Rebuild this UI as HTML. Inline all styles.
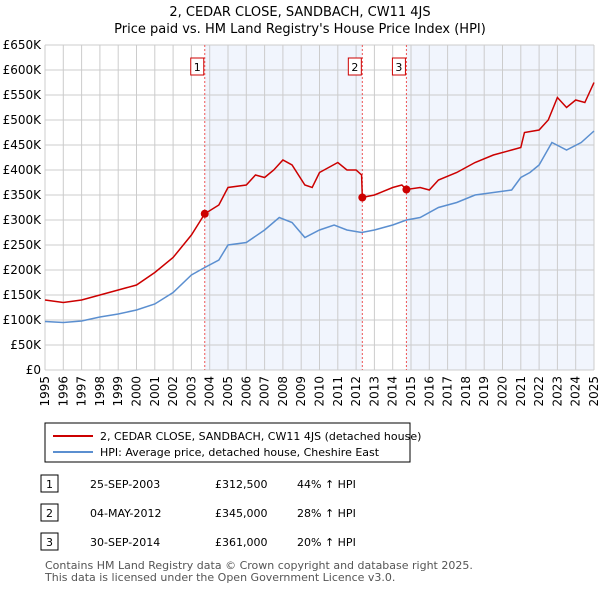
<!DOCTYPE html>
<html><head><meta charset="utf-8"><style>
body{margin:0;background:#fff;font-family:"DejaVu Sans",sans-serif;}
svg text{font-family:"DejaVu Sans",sans-serif;}
</style></head><body>
<svg width="600" height="590" xmlns="http://www.w3.org/2000/svg">
<text x="300" y="16" text-anchor="middle" font-size="13">2, CEDAR CLOSE, SANDBACH, CW11 4JS</text>
<text x="300" y="33" text-anchor="middle" font-size="13">Price paid vs. HM Land Registry's House Price Index (HPI)</text>
<g id="plot"></g>
<g id="legend">
<rect x="45" y="423" width="365" height="39" fill="#fff" stroke="#000" stroke-width="1"/>
<line x1="53" y1="436" x2="93" y2="436" stroke="#cc0000" stroke-width="2"/>
<text x="100" y="440" font-size="11">2, CEDAR CLOSE, SANDBACH, CW11 4JS (detached house)</text>
<line x1="53" y1="452" x2="93" y2="452" stroke="#5b8fd0" stroke-width="2"/>
<text x="100" y="456" font-size="11">HPI: Average price, detached house, Cheshire East</text>
</g>
<g id="table" font-size="11"></g>
<text x="45" y="569" font-size="11" fill="#555">Contains HM Land Registry data © Crown copyright and database right 2025.</text>
<text x="45" y="581" font-size="11" fill="#555">This data is licensed under the Open Government Licence v3.0.</text>
</svg>
<script>
const years=[1995,1996,1997,1998,1999,2000,2001,2002,2003,2004,2005,2006,2007,2008,2009,2010,2011,2012,2013,2014,2015,2016,2017,2018,2019,2020,2021,2022,2023,2024,2025];
const yTicks=[0,50,100,150,200,250,300,350,400,450,500,550,600,650];
const hpiT=[1995,1996,1997,1998,1999,2000,2001,2002,2003,2003.73,2004.5,2005,2006,2007,2007.8,2008.5,2009.2,2010,2010.8,2011.5,2012.3,2013,2014,2014.75,2015.5,2016.5,2017.5,2018.5,2019.5,2020.5,2021,2021.5,2022,2022.7,2023.5,2024.3,2025];
const hpiV=[97,95,98,106,112,120,132,155,190,205,220,250,255,280,305,295,265,280,290,280,275,280,290,300,305,325,335,350,355,360,385,395,410,455,440,455,478];
const priceT=[1995,1996,1997,1998,1999,2000,2001,2002,2003,2003.73,2004.5,2005,2006,2006.5,2007,2007.5,2008,2008.5,2009.2,2009.6,2010,2011,2011.5,2012,2012.3,2012.34,2013,2014,2014.5,2014.75,2015.5,2016,2016.5,2017.5,2018.5,2019.5,2020.5,2021,2021.2,2022,2022.5,2023,2023.5,2024,2024.5,2025];
const priceV=[140,135,140,150,160,170,195,225,270,312.5,330,365,370,390,385,400,420,410,370,365,395,415,400,400,390,345,350,365,370,361,365,360,380,395,415,430,440,445,475,480,500,545,525,540,535,575];
const saleT=[2003.73,2012.34,2014.75];
const saleV=[312.5,345,361];
const saleLabels=["1","2","3"];
const saleDates=["25-SEP-2003","04-MAY-2012","30-SEP-2014"];
const salePrices=["£312,500","£345,000","£361,000"];
const saleHpi=["44% ↑ HPI","28% ↑ HPI","20% ↑ HPI"];
const NS="http://www.w3.org/2000/svg";
const X0=45,X1=594,Y0=370,Y1=45;
const xs=t=>X0+(t-1995)/30*(X1-X0);
const ys=v=>Y0-v/650*(Y0-Y1);
function mk(tag,attrs,parent){const e=document.createElementNS(NS,tag);for(const k in attrs)e.setAttribute(k,attrs[k]);parent.appendChild(e);return e;}
const plot=document.getElementById('plot');
const shadeStarts=[saleT[0],saleT[2]],shadeEnds=[saleT[1],2025];
for(let i=0;i<2;i++){const r=mk('rect',{x:xs(shadeStarts[i]),y:Y1,width:xs(shadeEnds[i])-xs(shadeStarts[i]),height:Y0-Y1,fill:'#eef3fc',opacity:0.8},plot);

}
yTicks.forEach(v=>{const l=mk('line',{x1:X0,x2:X1,y1:ys(v),y2:ys(v),stroke:'#cccccc'},plot);


const t=mk('text',{x:X0-4,y:ys(v)+4,'text-anchor':'end','font-size':12},plot);t.textContent=v===0?'£0':'£'+v+'K';

});
years.forEach(y=>{const l=mk('line',{x1:xs(y),x2:xs(y),y1:Y1,y2:Y0,stroke:'#cccccc'},plot);


const t=mk('text',{x:0,y:0,'text-anchor':'end','font-size':12,transform:`translate(${xs(y)+4},${Y0+6}) rotate(-90)`},plot);t.textContent=y;

});
function line(T,V,c,name){const p=mk('polyline',{points:T.map((t,i)=>xs(t)+','+ys(V[i])).join(' '),fill:'none',stroke:c,'stroke-width':1.5},plot);

}
saleT.forEach((t,i)=>{const l=mk('line',{x1:xs(t),x2:xs(t),y1:Y1,y2:Y0,stroke:'#ee5555','stroke-dasharray':'2,2'},plot);

});
line(hpiT,hpiV,'#5b8fd0','hpi-line');
line(priceT,priceV,'#cc0000','price-line');
saleT.forEach((t,i)=>{const c=mk('circle',{cx:xs(t),cy:ys(saleV[i]),r:4,fill:'#cc0000'},plot);


const r=mk('rect',{x:xs(t)-14,y:58,width:13,height:17,fill:'#fff',stroke:'#cc0000'},plot);


const tx=mk('text',{x:xs(t)-7.5,y:71,'text-anchor':'middle','font-size':11},plot);tx.textContent=saleLabels[i];

});
const tb=document.getElementById('table');
saleLabels.forEach((s,i)=>{const y=487+i*29;
const r=mk('rect',{x:41,y:y-12,width:17,height:17,fill:'#fff',stroke:'#000'},tb);


const vals=[[s,49.5,'middle'],[saleDates[i],90,'start'],[salePrices[i],215,'start'],[saleHpi[i],297,'start']];
vals.forEach(v=>{const t=mk('text',{x:v[1],y:y+1,'text-anchor':v[2]},tb);t.textContent=v[0];

});});
</script>
</body></html>
